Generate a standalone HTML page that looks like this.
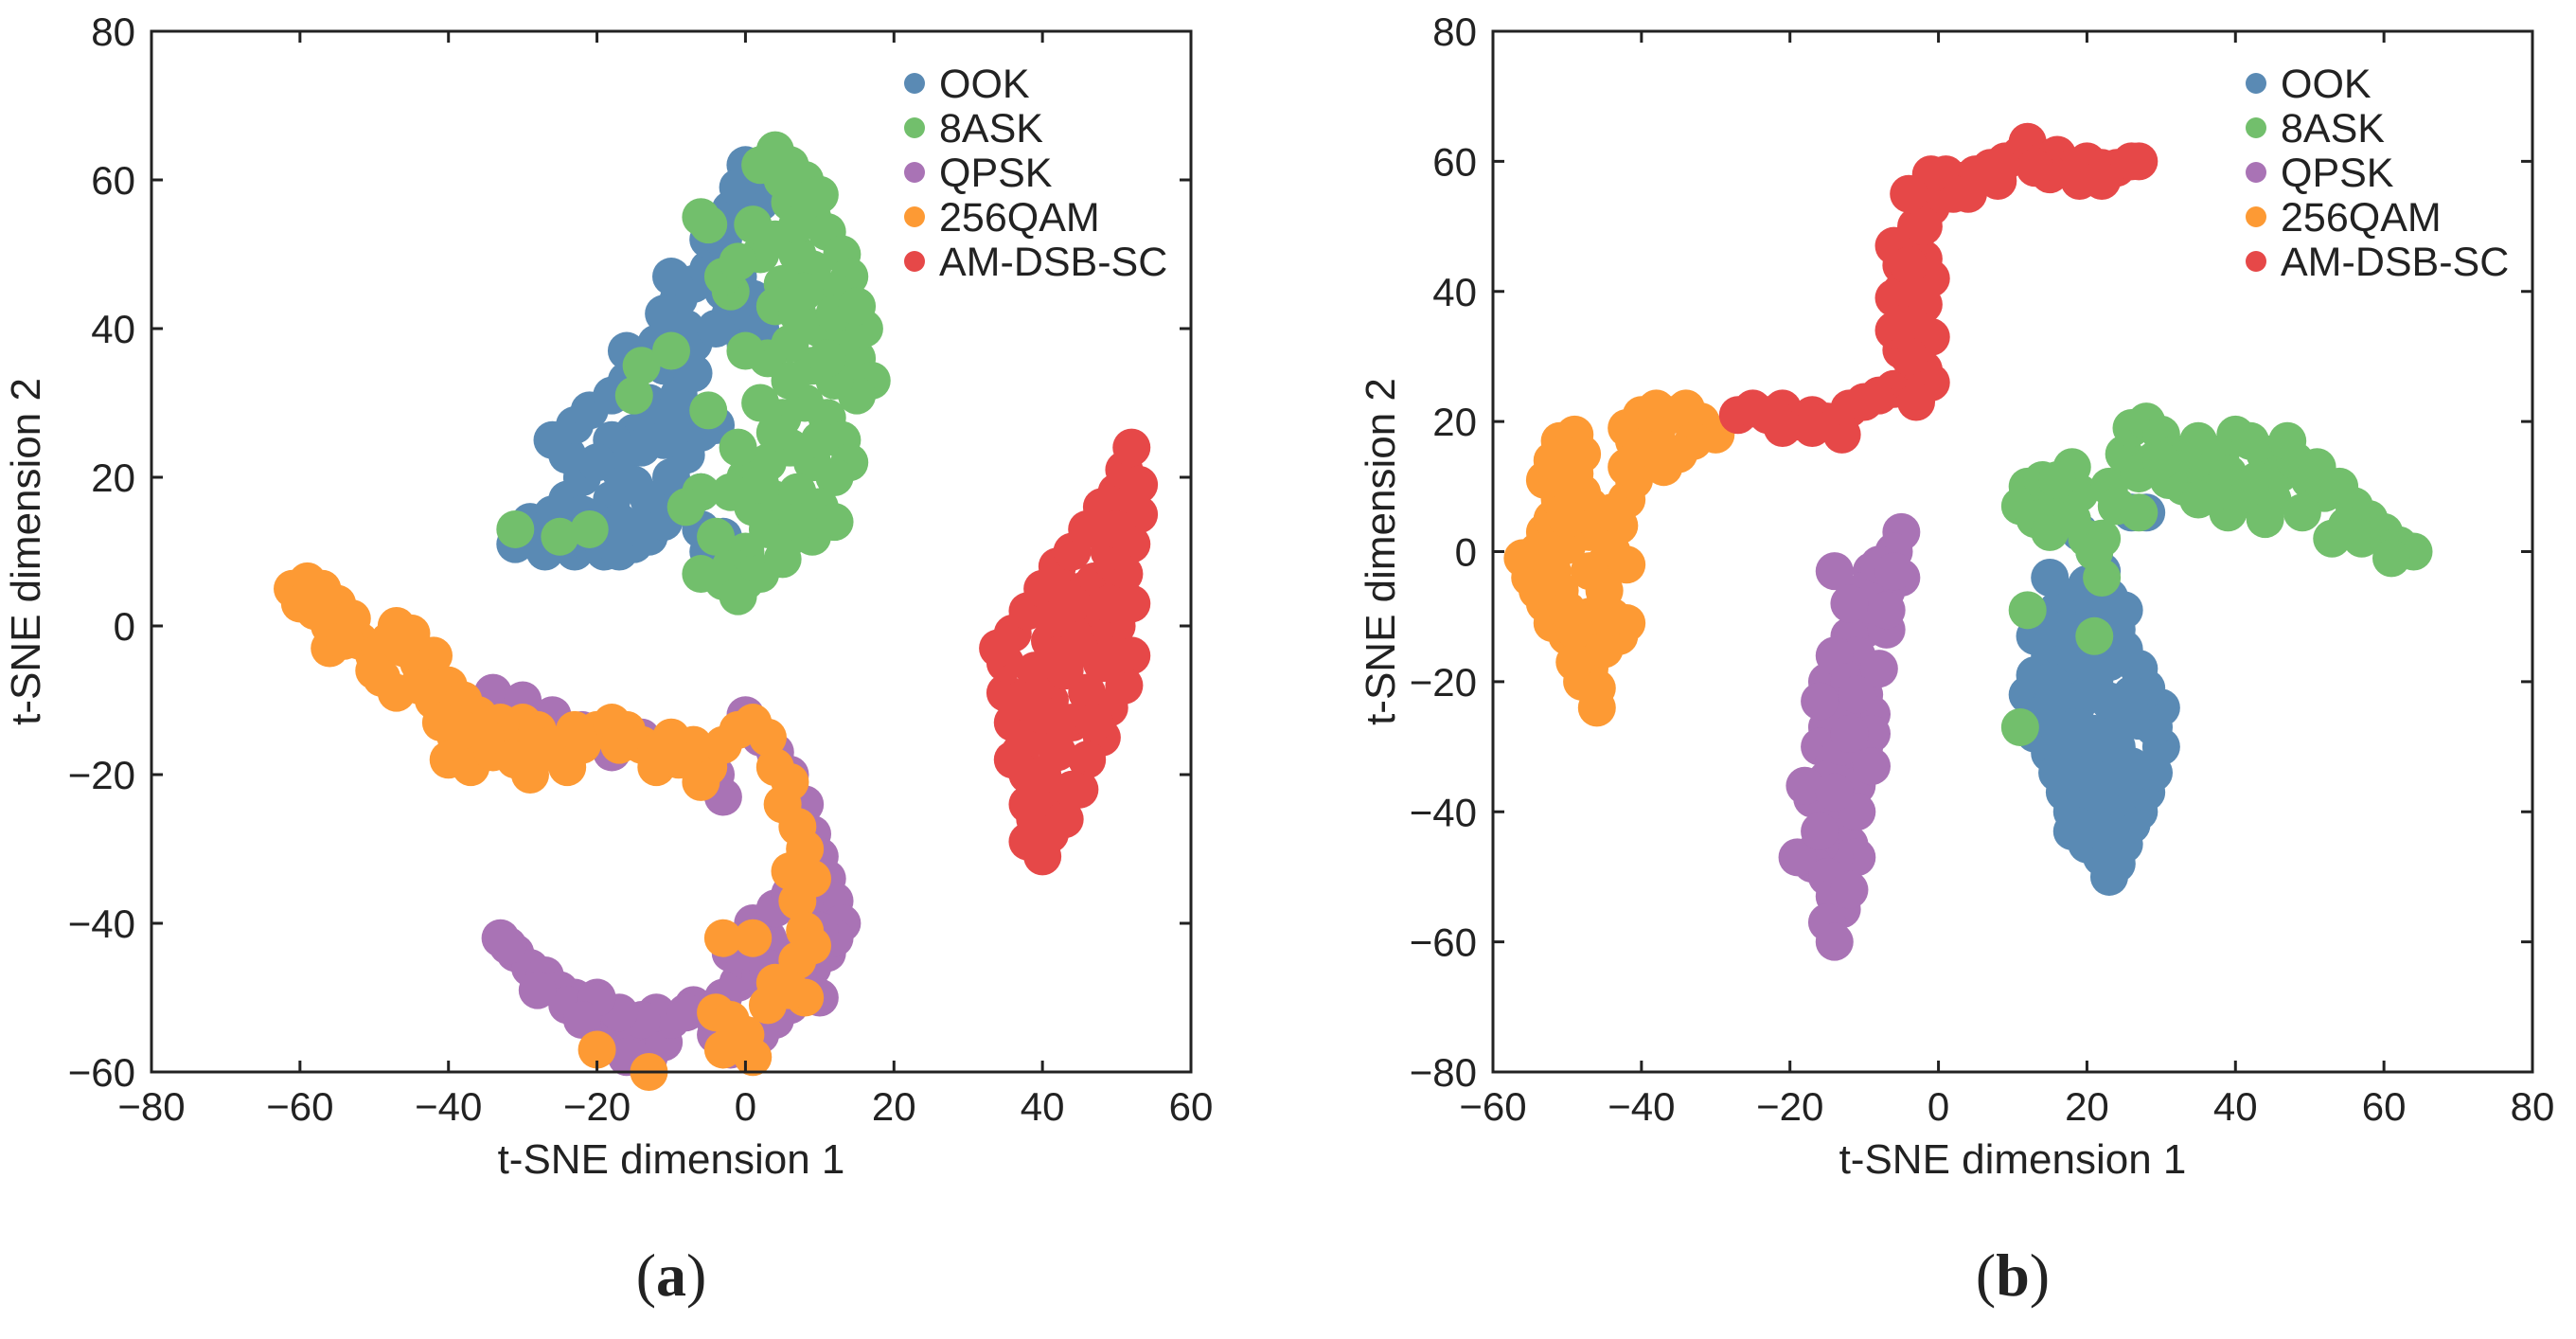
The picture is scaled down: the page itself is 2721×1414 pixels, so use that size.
<!DOCTYPE html>
<html><head><meta charset="utf-8"><style>
html,body{margin:0;padding:0;background:#fff;}
svg text{font-family:"Liberation Sans",Arial,sans-serif;fill:#222;}
</style></head><body>
<svg id="chart" width="2721" height="1409" viewBox="0 0 2721 1409" xmlns="http://www.w3.org/2000/svg"></svg>
<script>
const classNames=["OOK","8ASK","QPSK","256QAM","AM-DSB-SC"];
const classColors=["#5a8ab4","#72bf6c","#a973b5","#fd9a34","#e64848"];
const aXTicks=[-80,-60,-40,-20,0,20,40,60];
const aYTicks=[-60,-40,-20,0,20,40,60,80];
const bXTicks=[-60,-40,-20,0,20,40,60,80];
const bYTicks=[-80,-60,-40,-20,0,20,40,60,80];
const aOOK=[[-31,11],[-29,12],[-27,10],[-25,11],[-23,10],[-21,11],[-19,10],[-17,10],[-15,11],[-13,12],[-11,14],[-29,14],[-26,15],[-24,17],[-22,20],[-24,23],[-26,25],[-23,27],[-21,29],[-18,31],[-16,33],[-14,36],[-12,38],[-11,42],[-9,44],[-7,46],[-5,48],[-5,52],[-3,52],[-1,47],[1,44],[2,40],[0,38],[-2,42],[-8,40],[-11,35],[-13,30],[-15,26],[-17,21],[-18,17],[-20,14],[-17,14],[-13,17],[-10,20],[-8,23],[-6,26],[-4,27],[-6,18],[-9,16],[-14,24],[-12,28],[-9,31],[-7,34],[-18,25],[-20,22],[-14,13],[0,62],[1,60],[2,57],[3,59],[-6,13],[-5,10],[-3,12],[-16,37],[-10,47],[-3,45],[-7,38],[-4,40],[-11,25],[-15,19],[-22,15],[-27,13],[-9,27],[-2,56],[-1,59]];
const a8ASK=[[4,64],[6,62],[8,60],[10,58],[6,57],[9,55],[11,53],[13,50],[14,47],[12,45],[9,48],[7,50],[5,46],[4,43],[7,42],[10,40],[13,38],[15,36],[17,33],[15,31],[12,33],[9,35],[6,38],[3,36],[2,30],[5,28],[8,30],[11,28],[13,25],[14,22],[12,20],[9,22],[6,24],[3,22],[0,20],[-1,24],[-2,18],[1,16],[4,17],[7,18],[10,16],[12,14],[9,12],[6,12],[3,13],[0,10],[-2,8],[0,6],[-3,6],[-6,7],[2,7],[5,9],[-4,12],[2,50],[4,52],[1,54],[12,42],[16,40],[-1,4],[-2,45],[-3,47],[-5,54],[-6,55],[-14,35],[-15,31],[-21,13],[-25,12],[-31,13],[-5,29],[-6,18],[-8,16],[-10,37],[0,37],[2,62],[-1,49],[8,45],[11,36],[6,33],[10,25],[4,26],[7,14],[2,19],[5,60],[15,43],[7,54]];
const aQPSK=[[-34,-9],[-30,-10],[-26,-12],[-22,-14],[-18,-17],[-14,-15],[-10,-16],[-6,-18],[-4,-20],[-3,-23],[0,-12],[2,-15],[4,-17],[6,-20],[8,-24],[9,-28],[10,-31],[11,-34],[12,-37],[13,-40],[11,-44],[9,-46],[10,-50],[7,-47],[5,-44],[3,-42],[1,-40],[4,-38],[6,-36],[7,-33],[6,-51],[4,-53],[2,-55],[0,-56],[-2,-57],[-4,-55],[-5,-52],[-7,-51],[-3,-50],[-1,-48],[-2,-44],[0,-45],[2,-47],[-33,-42],[-31,-44],[-29,-46],[-27,-47],[-25,-49],[-23,-50],[-21,-52],[-19,-54],[-17,-55],[-15,-56],[-13,-58],[-11,-56],[-10,-53],[-12,-52],[-14,-53],[-17,-52],[-8,-52],[-24,-51],[-20,-50],[-28,-49],[-32,-43],[-22,-53],[-16,-58],[8,-38],[12,-42],[10,-41],[3,-46]];
const a256QAM=[[-61,5],[-59,6],[-57,5],[-58,2],[-56,0],[-55,3],[-53,1],[-52,-2],[-50,-4],[-48,-2],[-47,0],[-46,-3],[-44,-5],[-42,-4],[-44,-8],[-47,-9],[-42,-10],[-40,-8],[-38,-10],[-36,-12],[-39,-15],[-40,-18],[-37,-19],[-34,-17],[-32,-15],[-30,-13],[-28,-14],[-26,-16],[-29,-20],[-27,-17],[-24,-19],[-22,-16],[-20,-14],[-18,-13],[-16,-14],[-14,-16],[-12,-17],[-10,-15],[-12,-19],[-7,-18],[-5,-19],[-3,-16],[-1,-14],[1,-13],[3,-15],[4,-19],[6,-21],[5,-24],[7,-27],[8,-30],[6,-33],[9,-34],[7,-37],[8,-41],[9,-43],[7,-45],[8,-50],[6,-49],[-3,-42],[1,-42],[-4,-52],[-2,-53],[-3,-57],[0,-55],[1,-58],[-20,-57],[-13,-60],[4,-48],[3,-51],[-6,-21],[-33,-13],[-50,-6],[-56,-3],[-60,3],[-45,-1],[-7,-16],[-54,-2],[-49,-7],[-41,-13],[-35,-15],[-31,-18],[-23,-14],[-17,-16],[-9,-18],[-58,4],[-38,-14]];
const aAMDSB=[[38,-29],[40,-31],[39,-26],[41,-23],[38,-20],[37,-17],[36,-13],[35,-9],[35,-5],[34,-3],[36,-1],[38,2],[40,5],[42,8],[44,10],[46,13],[48,16],[50,18],[51,21],[52,24],[53,19],[53,15],[52,11],[51,7],[52,3],[50,0],[52,-4],[51,-8],[49,-11],[48,-15],[46,-18],[45,-22],[43,-26],[41,-28],[40,-20],[42,-17],[44,-13],[46,-9],[48,-5],[47,-1],[45,2],[43,5],[41,-2],[39,-6],[37,-10],[39,-14],[41,-10],[43,-6],[45,-3],[47,6],[49,10],[48,13],[46,5],[44,-1],[42,-14],[38,-15],[36,-18],[50,13],[47,-13],[44,-22],[40,-12],[42,-4],[44,3],[49,3],[50,-4],[38,-24],[42,1]];
const bOOK=[[21,0],[22,-3],[20,-5],[18,-7],[16,-9],[14,-11],[13,-13],[15,-16],[13,-19],[12,-22],[14,-25],[13,-28],[15,-31],[16,-34],[17,-37],[18,-40],[18,-43],[20,-45],[22,-47],[23,-50],[24,-48],[25,-45],[26,-42],[27,-40],[28,-37],[29,-34],[30,-30],[29,-27],[30,-24],[28,-21],[27,-18],[25,-15],[24,-12],[25,-9],[23,-7],[21,-10],[19,-13],[18,-16],[17,-20],[19,-23],[21,-20],[23,-23],[25,-26],[24,-30],[22,-33],[20,-35],[19,-31],[17,-27],[21,-28],[24,-38],[22,-40],[20,-42],[26,-33],[27,-26],[16,-22],[23,-17],[26,6],[28,6],[19,3],[15,-4],[21,-37],[17,-12],[20,-17],[23,-35],[26,-22],[15,-20],[19,-27],[22,-43],[18,-34]];
const b8ASK=[[11,7],[12,10],[14,11],[13,5],[15,3],[16,8],[18,13],[19,9],[18,5],[20,2],[22,2],[21,0],[23,10],[25,15],[26,19],[28,20],[30,18],[29,14],[27,12],[32,15],[34,13],[36,12],[35,17],[38,15],[40,18],[42,17],[44,15],[43,11],[41,8],[39,6],[45,8],[46,12],[48,14],[50,11],[52,9],[51,13],[54,10],[56,7],[55,4],[58,5],[60,3],[62,1],[64,0],[61,-1],[57,2],[53,2],[49,6],[44,5],[37,9],[33,10],[24,7],[27,6],[12,-9],[22,-4],[21,-13],[11,-27],[35,8],[47,17],[31,11],[39,12],[42,10],[30,14],[16,11]];
const bQPSK=[[-5,3],[-6,0],[-5,-4],[-7,-6],[-9,-3],[-8,-9],[-10,-12],[-12,-13],[-11,-16],[-13,-18],[-15,-20],[-14,-16],[-12,-20],[-10,-22],[-9,-25],[-11,-27],[-13,-25],[-15,-27],[-16,-30],[-14,-32],[-12,-33],[-10,-30],[-9,-28],[-11,-36],[-13,-38],[-15,-35],[-17,-38],[-15,-41],[-13,-42],[-12,-45],[-11,-47],[-14,-47],[-16,-45],[-17,-48],[-19,-47],[-15,-50],[-14,-53],[-13,-55],[-15,-57],[-14,-60],[-12,-52],[-16,-43],[-11,-40],[-8,-18],[-7,-12],[-10,-6],[-14,-3],[-12,-8],[-9,-33],[-18,-36],[-16,-23],[-13,-30],[-8,-2],[-6,-3],[-11,-22],[-14,-37],[-12,-28],[-7,-9]];
const b256QAM=[[-56,-1],[-55,-4],[-54,0],[-53,3],[-52,5],[-51,8],[-53,11],[-52,14],[-51,17],[-49,18],[-48,15],[-49,12],[-48,9],[-46,6],[-45,3],[-44,0],[-45,-2],[-47,3],[-50,1],[-52,-3],[-51,-6],[-53,-8],[-52,-11],[-50,-13],[-48,-15],[-47,-18],[-46,-21],[-46,-24],[-48,-20],[-49,-17],[-45,-15],[-43,-13],[-42,-11],[-44,-10],[-47,-10],[-49,-12],[-54,-6],[-42,-2],[-43,4],[-42,8],[-41,11],[-42,13],[-39,14],[-41,17],[-42,19],[-40,21],[-38,22],[-36,21],[-34,22],[-32,20],[-30,18],[-33,17],[-35,15],[-37,13],[-38,18],[-44,6],[-47,7],[-50,-9],[-45,-6],[-50,5],[-47,-3],[-40,16]];
const bAMDSB=[[-27,21],[-25,22],[-23,21],[-21,22],[-19,20],[-17,21],[-15,20],[-13,18],[-12,22],[-10,23],[-8,24],[-6,25],[-4,26],[-3,29],[-5,31],[-3,34],[-4,37],[-5,40],[-3,42],[-2,45],[-4,47],[-3,50],[-1,53],[0,56],[1,58],[3,57],[5,58],[7,59],[9,60],[11,61],[12,63],[14,60],[16,61],[18,59],[20,60],[22,59],[24,59],[26,60],[27,60],[19,57],[15,58],[8,57],[2,55],[-1,58],[-5,44],[-6,39],[-2,38],[-1,33],[-2,28],[-1,26],[-4,30],[-6,34],[-6,47],[-2,50],[13,59],[22,57],[-3,23],[-17,19],[-21,19],[-1,42],[-4,55],[-4,44],[-3,39],[-5,35],[4,55]];

const NS="http://www.w3.org/2000/svg";
const svg=document.getElementById('chart');
function mk(tag,attrs,parent){const e=document.createElementNS(NS,tag);for(const k in attrs)e.setAttribute(k,attrs[k]);(parent||svg).appendChild(e);return e;}

function panel(id,left,xmin,xmax,ymin,ymax,xt,yt,series,label){
  const top=33,bottom=1132,right=left+1098;
  const sx=v=>left+(v-xmin)/(xmax-xmin)*(right-left);
  const sy=v=>bottom-(v-ymin)/(ymax-ymin)*(bottom-top);
  const g=mk('g',{});
  
  
  const pts=mk('g',{},g);
  
  
  series.forEach((s,i)=>{
    const sg=mk('g',{fill:classColors[i]},pts);
    
    
    s.forEach(p=>{
      const c=mk('circle',{cx:sx(p[0]),cy:sy(p[1]),r:20},sg);
      
      
    });
  });
  const frame=mk('rect',{x:left,y:top,width:right-left,height:bottom-top,fill:'none',stroke:'#222','stroke-width':3},g);
  
  
  xt.forEach(v=>{
    const x=sx(v);
    mk('line',{x1:x,y1:bottom,x2:x,y2:bottom-12,stroke:'#222','stroke-width':3},g);
    mk('line',{x1:x,y1:top,x2:x,y2:top+12,stroke:'#222','stroke-width':3},g);
    const t=mk('text',{x:x,y:1183,'text-anchor':'middle','font-size':42},g);
    t.textContent=(v<0?'\u2212'+(-v):v);
    
    
  });
  yt.forEach(v=>{
    const y=sy(v);
    mk('line',{x1:left,y1:y,x2:left+12,y2:y,stroke:'#222','stroke-width':3},g);
    mk('line',{x1:right,y1:y,x2:right-12,y2:y,stroke:'#222','stroke-width':3},g);
    const t=mk('text',{x:left-17,y:y+15,'text-anchor':'end','font-size':42},g);
    t.textContent=(v<0?'\u2212'+(-v):v);
    
    
  });
  const xtitle=mk('text',{x:(left+right)/2,y:1239,'text-anchor':'middle','font-size':44},g);
  xtitle.textContent='t-SNE dimension 1';
  
  
  const ycx=left-(id==='a'?118:104);
  const ytitle=mk('text',{x:ycx,y:(top+bottom)/2,'text-anchor':'middle','font-size':44,transform:'rotate(-90 '+ycx+' '+(top+bottom)/2+')'},g);
  ytitle.textContent='t-SNE dimension 2';
  
  
  const lg=mk('g',{},g);
  
  
  classNames.forEach((n,i)=>{
    const y=88+i*47;
    const e=mk('g',{},lg);
    
    
    mk('circle',{cx:left+806,cy:y,r:11,fill:classColors[i]},e);
    const t=mk('text',{x:left+832,y:y+15,'font-size':43},e);
    t.textContent=n;
  });
  const cap=mk('text',{x:(left+right)/2,y:1368,'text-anchor':'middle','font-size':64,style:'font-family:"Liberation Serif",serif'},g);
  cap.innerHTML='(<tspan font-weight="bold">'+label+'</tspan>)';
  
  
}
panel('a',160,-80,60,-60,80,aXTicks,aYTicks,[aOOK,a8ASK,aQPSK,a256QAM,aAMDSB],'a');
panel('b',1577,-60,80,-80,80,bXTicks,bYTicks,[bOOK,b8ASK,bQPSK,b256QAM,bAMDSB],'b');
</script>
</body></html>
